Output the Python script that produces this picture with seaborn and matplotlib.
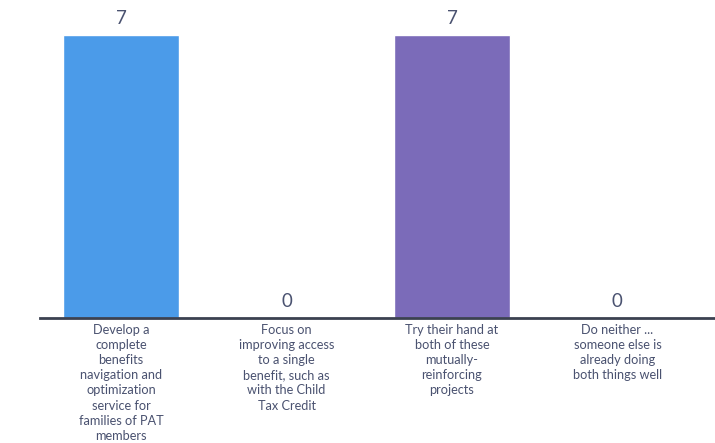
import matplotlib
matplotlib.use("Agg")
import matplotlib.pyplot as plt
import seaborn as sns
import pandas as pd

sns.set_style("white")
plt.rcParams["font.family"] = ["Lato", "DejaVu Sans"]

# ---- data ----
options = [
    "Develop a\ncomplete\nbenefits\nnavigation and\noptimization\nservice for\nfamilies of PAT\nmembers",
    "Focus on\nimproving access\nto a single\nbenefit, such as\nwith the Child\nTax Credit",
    "Try their hand at\nboth of these\nmutually-\nreinforcing\nprojects",
    "Do neither ...\nsomeone else is\nalready doing\nboth things well",
]
votes = [7, 0, 7, 0]
bar_colors = ["#4b9be9", "#4b9be9", "#7b6bb9", "#7b6bb9"]

df = pd.DataFrame({"option": options, "votes": votes})
text_color = "#4a5270"

fig = plt.figure(figsize=(7.15, 4.43), dpi=100)
ax = fig.add_axes([40 / 715, 1 - 318 / 443, 1 - 40 / 715, (318 - 11) / 443])

sns.barplot(data=df, x="option", y="votes", hue="option", palette=bar_colors,
            legend=False, width=0.70, saturation=1, ax=ax)

for i, v in enumerate(votes):
    ax.annotate(str(v), (i, v), xytext=(0, 6), textcoords="offset points",
                ha="center", va="bottom", fontsize=13.5, color=text_color)

ax.set_ylim(0, 7.6)
ax.set_xlim(-0.49, 3.59)
ax.set_xlabel("")
ax.set_ylabel("")
ax.set_yticks([])
ax.tick_params(axis="x", length=0, pad=4, labelsize=9.2, labelcolor=text_color)
for lab in ax.get_xticklabels():
    lab.set_linespacing(1.32)
    lab.set_va("top")

for s in ["top", "right", "left"]:
    ax.spines[s].set_visible(False)
ax.spines["bottom"].set_color("#3b4150")
ax.spines["bottom"].set_linewidth(2)

fig.savefig("out.png", dpi=100)
